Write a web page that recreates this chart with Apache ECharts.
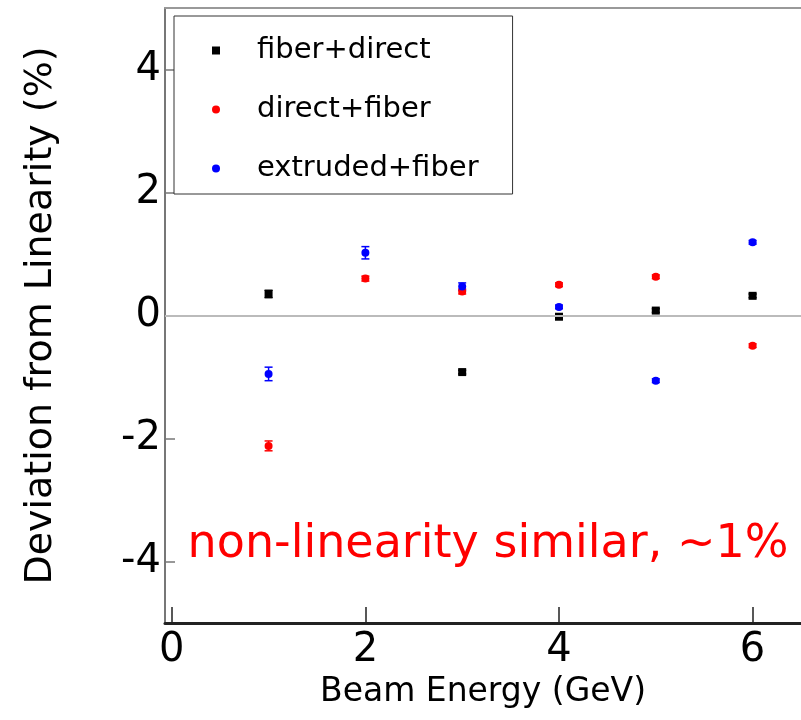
<!DOCTYPE html>
<html>
<head>
<meta charset="utf-8">
<script src="https://cdn.jsdelivr.net/npm/echarts@6/dist/echarts.min.js"></script>
<style>
  html, body { margin: 0; padding: 0; background: #fff; }
  #chart { width: 801px; height: 720px; }
</style>
</head>
<body>
<div id="chart"></div>
<script>
var energies = [1, 2, 3, 4, 5, 6];
var xTicks = [0, 2, 4, 6];
var yTicks = [-4, -2, 0, 2, 4];

// deviation from linearity (%), null where the point is not visible
var fiberDirect = [0.35, null, -0.92, -0.02, 0.08, 0.32];
var fiberDirectErr = [0.06, 0, 0.03, 0.03, 0.03, 0.03];
var directFiber = [-2.12, 0.6, 0.39, 0.5, 0.63, -0.49];
var directFiberErr = [0.08, 0.04, 0.04, 0.03, 0.03, 0.03];
var extrudedFiber = [-0.95, 1.02, 0.47, 0.14, -1.06, 1.19];
var extrudedFiberErr = [0.11, 0.1, 0.06, 0.03, 0.03, 0.03];

var font = 'DejaVu Sans';

function pairs(vals, errs) {
    var out = [];
    for (var i = 0; i < energies.length; i++) {
        if (vals[i] !== null) out.push([energies[i], vals[i], errs[i]]);
    }
    return out;
}

function errorBars(color, data) {
    return {
        type: 'custom',
        silent: true,
        z: 3,
        data: data,
        renderItem: function (params, api) {
            var x = api.value(0), y = api.value(1), e = api.value(2);
            var top = api.coord([x, y + e]);
            var bot = api.coord([x, y - e]);
            var w = 4;
            var st = { stroke: color, lineWidth: 1.5 };
            return {
                type: 'group',
                children: [
                    { type: 'line', shape: { x1: top[0], y1: top[1], x2: bot[0], y2: bot[1] }, style: st },
                    { type: 'line', shape: { x1: top[0] - w, y1: top[1], x2: top[0] + w, y2: top[1] }, style: st },
                    { type: 'line', shape: { x1: bot[0] - w, y1: bot[1], x2: bot[0] + w, y2: bot[1] }, style: st }
                ]
            };
        }
    };
}

var chart = echarts.init(document.getElementById('chart'));

var option = {
    animation: false,
    grid: { left: 165, right: 0, top: 8, bottom: 97 },
    legend: {
        orient: 'vertical',
        left: 174,
        top: 16,
        padding: [20, 34, 11, 38],
        itemGap: 30,
        itemWidth: 8,
        itemHeight: 8,
        borderColor: '#333',
        borderWidth: 1,
        backgroundColor: '#fff',
        textStyle: { fontFamily: font, fontSize: 29, color: '#000', padding: [0, 0, 0, 32] },
        data: [
            { name: 'fiber+direct', icon: 'rect' },
            { name: 'direct+fiber', icon: 'circle' },
            { name: 'extruded+fiber', icon: 'circle' }
        ]
    },
    xAxis: [{
        type: 'value',
        min: -0.07,
        max: 6.5,
        name: 'Beam Energy (GeV)',
        nameLocation: 'middle',
        nameGap: 50,
        nameTextStyle: { fontFamily: font, fontSize: 33, color: '#000' },
        axisLine: { onZero: false, lineStyle: { color: '#222', width: 3 } },
        axisTick: { inside: true, length: 16, lineStyle: { color: '#222', width: 1.5 }, customValues: xTicks },
        axisLabel: { fontFamily: font, fontSize: 40, color: '#000', margin: 8, customValues: xTicks },
        splitLine: { show: false }
    }, {
        type: 'value',
        position: 'top',
        min: -0.07,
        max: 6.5,
        axisLine: { show: true, onZero: false, lineStyle: { color: '#999', width: 2 } },
        axisTick: { show: false },
        axisLabel: { show: false },
        splitLine: { show: false }
    }],
    yAxis: {
        type: 'value',
        min: -5,
        max: 5,
        name: 'Deviation from Linearity (%)',
        nameLocation: 'middle',
        nameGap: 105,
        nameTextStyle: { fontFamily: font, fontSize: 38, color: '#000' },
        axisLine: { show: true, onZero: false, lineStyle: { color: '#777', width: 2 } },
        axisTick: { inside: true, length: 10, lineStyle: { color: '#777', width: 1.5 }, customValues: yTicks },
        axisLabel: { fontFamily: font, fontSize: 40, color: '#000', margin: 4, customValues: yTicks },
        splitLine: { show: false }
    },
    graphic: [{
        type: 'text',
        x: 488,
        y: 545,
        z: 10,
        style: {
            text: 'non-linearity similar, ~1%',
            fontFamily: font,
            fontSize: 46,
            fill: '#ff0000',
            align: 'center',
            verticalAlign: 'middle'
        }
    }],
    series: [
        {
            name: 'fiber+direct',
            type: 'scatter',
            symbol: 'rect',
            symbolSize: 8,
            itemStyle: { color: '#000', opacity: 1 },
            z: 4,
            data: pairs(fiberDirect, fiberDirectErr),
            markLine: {
                silent: true,
                symbol: 'none',
                label: { show: false },
                lineStyle: { color: '#bbb', width: 2, type: 'solid' },
                data: [{ yAxis: 0 }]
            }
        },
        {
            name: 'direct+fiber',
            type: 'scatter',
            symbol: 'circle',
            symbolSize: 8,
            itemStyle: { color: '#ff0000', opacity: 1 },
            z: 5,
            data: pairs(directFiber, directFiberErr)
        },
        {
            name: 'extruded+fiber',
            type: 'scatter',
            symbol: 'circle',
            symbolSize: 8,
            itemStyle: { color: '#0000ff', opacity: 1 },
            z: 6,
            data: pairs(extrudedFiber, extrudedFiberErr)
        },
        errorBars('#000', pairs(fiberDirect, fiberDirectErr)),
        errorBars('#ff0000', pairs(directFiber, directFiberErr)),
        errorBars('#0000ff', pairs(extrudedFiber, extrudedFiberErr))
    ]
};

chart.setOption(option);
</script>
</body>
</html>
